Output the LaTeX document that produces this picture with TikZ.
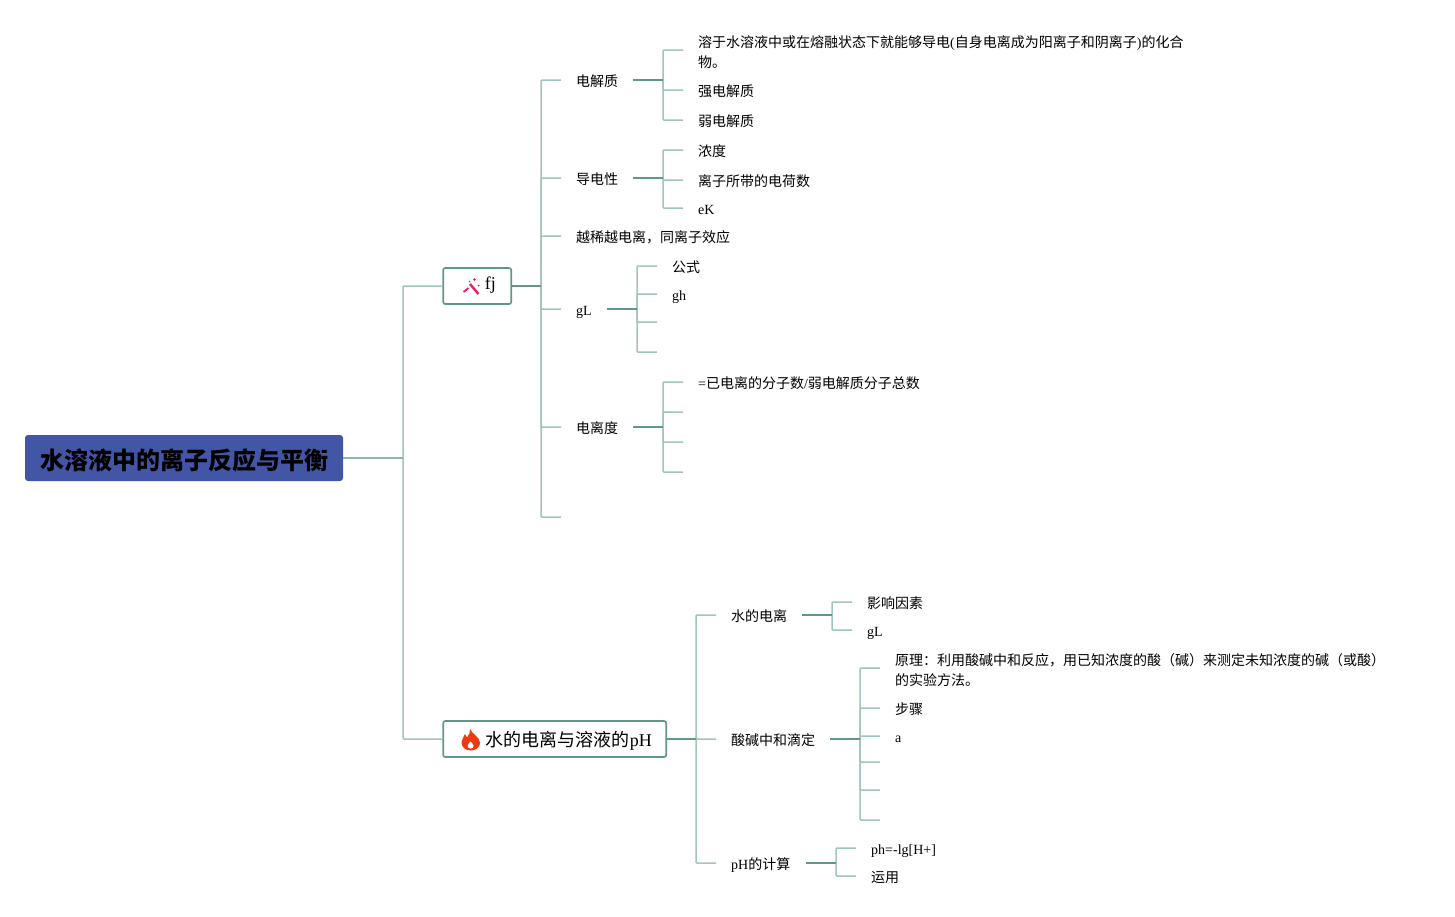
\documentclass[tikz,border=0pt]{standalone}
\usepackage{fontspec}
\setmainfont{Liberation Serif}
\newfontfamily\cjk{Noto Sans CJK SC}
\newcommand{\zh}[1]{{\cjk #1}}
\definecolor{lightline}{HTML}{A2C5B9}
\definecolor{darkline}{HTML}{5F9888}
\definecolor{rootfill}{HTML}{4355A5}
\definecolor{wandpink}{HTML}{E8205F}
\definecolor{flamered}{HTML}{EE3A12}
\begin{document}
\begin{tikzpicture}
[x=1pt,y=-1pt,
  rootdecorate/.style={shape=rectangle,fill=rootfill,rounded corners=3pt,minimum width=318pt,
    minimum height=46pt,inner sep=0pt,text height=24pt,text depth=2pt,
    font=\cjk\bfseries\fontsize{24}{28}\selectfont},
  topicdecorate/.style={shape=rectangle,draw=darkline,line width=1.6pt,fill=white,rounded corners=2pt,
    minimum height=36pt,inner sep=0pt,anchor=west,font=\fontsize{18}{22}\selectfont},
  leafdecorate/.style={shape=rectangle,inner xsep=15pt,inner ysep=0pt,anchor=west,align=left,
    text height=13pt,text depth=1pt,font=\fontsize{14}{20}\selectfont},
  wrapdecorate/.style={leafdecorate,text height=,text depth=},
  childline/.style={-,draw=lightline,line width=1.5pt,rounded corners=1pt,to path={|- (\tikztotarget)}},
  parentline/.style={-,draw=darkline,line width=2pt}]
\useasboundingbox (0,0) rectangle (1455,916);
%% root and the two topics
\node (root) at (184,458) [rootdecorate] {\zh{水溶液中的离子反应与平衡}};
\node (fj) at (442.4,286) [topicdecorate,minimum width=68pt,text width=68pt,align=left,
  text height=8pt,text depth=1pt] {\hspace*{41.6pt}fj};
\node (ph) at (442.4,739) [topicdecorate,minimum width=223pt,text width=223pt,align=left,
  text height=17pt,text depth=1.4pt] {\hspace*{42.6pt}\zh{水的电离与溶液的}pH};
%% leaves
\foreach \nodename/\x/\y/\label in {
  djz/561/80/{\zh{电解质}}, ddx/561/178/{\zh{导电性}},
  yxy/561/236/{\zh{越稀越电离，同离子效应}}, gla/561/309/{gL},
  dld/561/427/{\zh{电离度}},
  sdl/716/615/{\zh{水的电离}}, sjz/716/739/{\zh{酸碱中和滴定}},
  phj/716/863/{pH\zh{的计算}},
  djzb/683/90/{\zh{强电解质}}, djzc/683/120/{\zh{弱电解质}},
  ddxa/683/150/{\zh{浓度}}, ddxb/683/180/{\zh{离子所带的电荷数}}, ddxc/683/208/{eK},
  glaa/657/266/{\zh{公式}}, glab/657/294/{gh},
  dlda/683/382/{=\zh{已电离的分子数}/\zh{弱电解质分子总数}},
  sdla/852/602/{\zh{影响因素}}, sdlb/852/630/{gL},
  sjzb/880/708/{\zh{步骤}}, sjzc/880/736/{a},
  phja/856/848/{ph=-lg[H+]}, phjb/856/876/{\zh{运用}}}
{
  \node (\nodename) at (\x,\y) [leafdecorate] {\label};
}
\foreach \nodename/\x/\y/\label in {
  djza/683/50/{\rule{0pt}{16pt}\zh{溶于水溶液中或在熔融状态下就能够导电}(\zh{自身电离成为阳离子和阴离子})\zh{的化合}\\\zh{物。}},
  sjza/880/668/{\rule{0pt}{16pt}\zh{原理：利用酸碱中和反应，用已知浓度的酸（碱）来测定未知浓度的碱（或酸）}\\\zh{的实验方法。}}}
{
  \node (\nodename) at (\x,\y) [wrapdecorate] {\label};
}
%% free ends and branching points
\foreach \nodename/\x/\y in {fjz/561/517, glac/657/322, glad/657/352,
  dldb/683/412, dldc/683/442, dldd/683/472,
  sjzd/880/762, sjze/880/790, sjzf/880/820,
  troot/403/458, tfj/541/286, tph/696/739, tdjz/663/80, tddx/663/178,
  tgla/637/309, tdld/663/427, tsdl/832/615, tsjz/860/739, tphj/836/863}
{
  \coordinate (\nodename) at (\x,\y);
}
%% edges or lines
\path
\foreach \startnode/\endnode in {troot/fj, troot/ph,
  tfj/djz, tfj/ddx, tfj/yxy, tfj/gla, tfj/dld, tfj/fjz,
  tdjz/djza, tdjz/djzb, tdjz/djzc, tddx/ddxa, tddx/ddxb, tddx/ddxc,
  tgla/glaa, tgla/glab, tgla/glac, tgla/glad,
  tdld/dlda, tdld/dldb, tdld/dldc, tdld/dldd,
  tph/sdl, tph/sjz, tph/phj, tsdl/sdla, tsdl/sdlb,
  tsjz/sjza, tsjz/sjzb, tsjz/sjzc, tsjz/sjzd, tsjz/sjze, tsjz/sjzf,
  tphj/phja, tphj/phjb} {
  (\startnode) edge[childline] (\endnode)
};
\path
\foreach \startnode/\endnode in {fj/tfj, ph/tph, djz/tdjz, ddx/tddx,
  gla/tgla, dld/tdld, sdl/tsdl, sjz/tsjz, phj/tphj} {
  (\startnode) edge[parentline] (\endnode)
};
\path (root) edge[-,draw=lightline!70!darkline,line width=1.5pt] (troot);
%% icons
\draw[wandpink,line width=2.4pt] (470,284) -- (478.5,294);
\draw[wandpink,line width=1.8pt] (463.5,292) -- (468.5,288);
\fill[wandpink] (474.5,279.5) circle (1.3pt) (478.5,285.5) circle (1pt) (469.5,281.5) circle (0.9pt);
\fill[flamered] (470,729) .. controls (472,734) and (480,737) .. (480,743)
  .. controls (480,747.5) and (475.5,750.5) .. (470.5,750.5)
  .. controls (466,750.5) and (461.5,747.5) .. (461.5,742.5)
  .. controls (461.5,739) and (464,737) .. (465,734)
  .. controls (466,735.5) and (466.5,736.5) .. (467,737.5)
  .. controls (469,735) and (470.5,732) .. (470,729) -- cycle;
\fill[white] (470.5,748.5) .. controls (468.5,748.5) and (467.5,747) .. (467.7,745.5)
  .. controls (468,744) and (469.5,743) .. (470.5,741.5)
  .. controls (471.5,743) and (473.5,744) .. (473.5,746)
  .. controls (473.5,747.5) and (472.5,748.5) .. (470.5,748.5) -- cycle;
\end{tikzpicture}
\end{document}
